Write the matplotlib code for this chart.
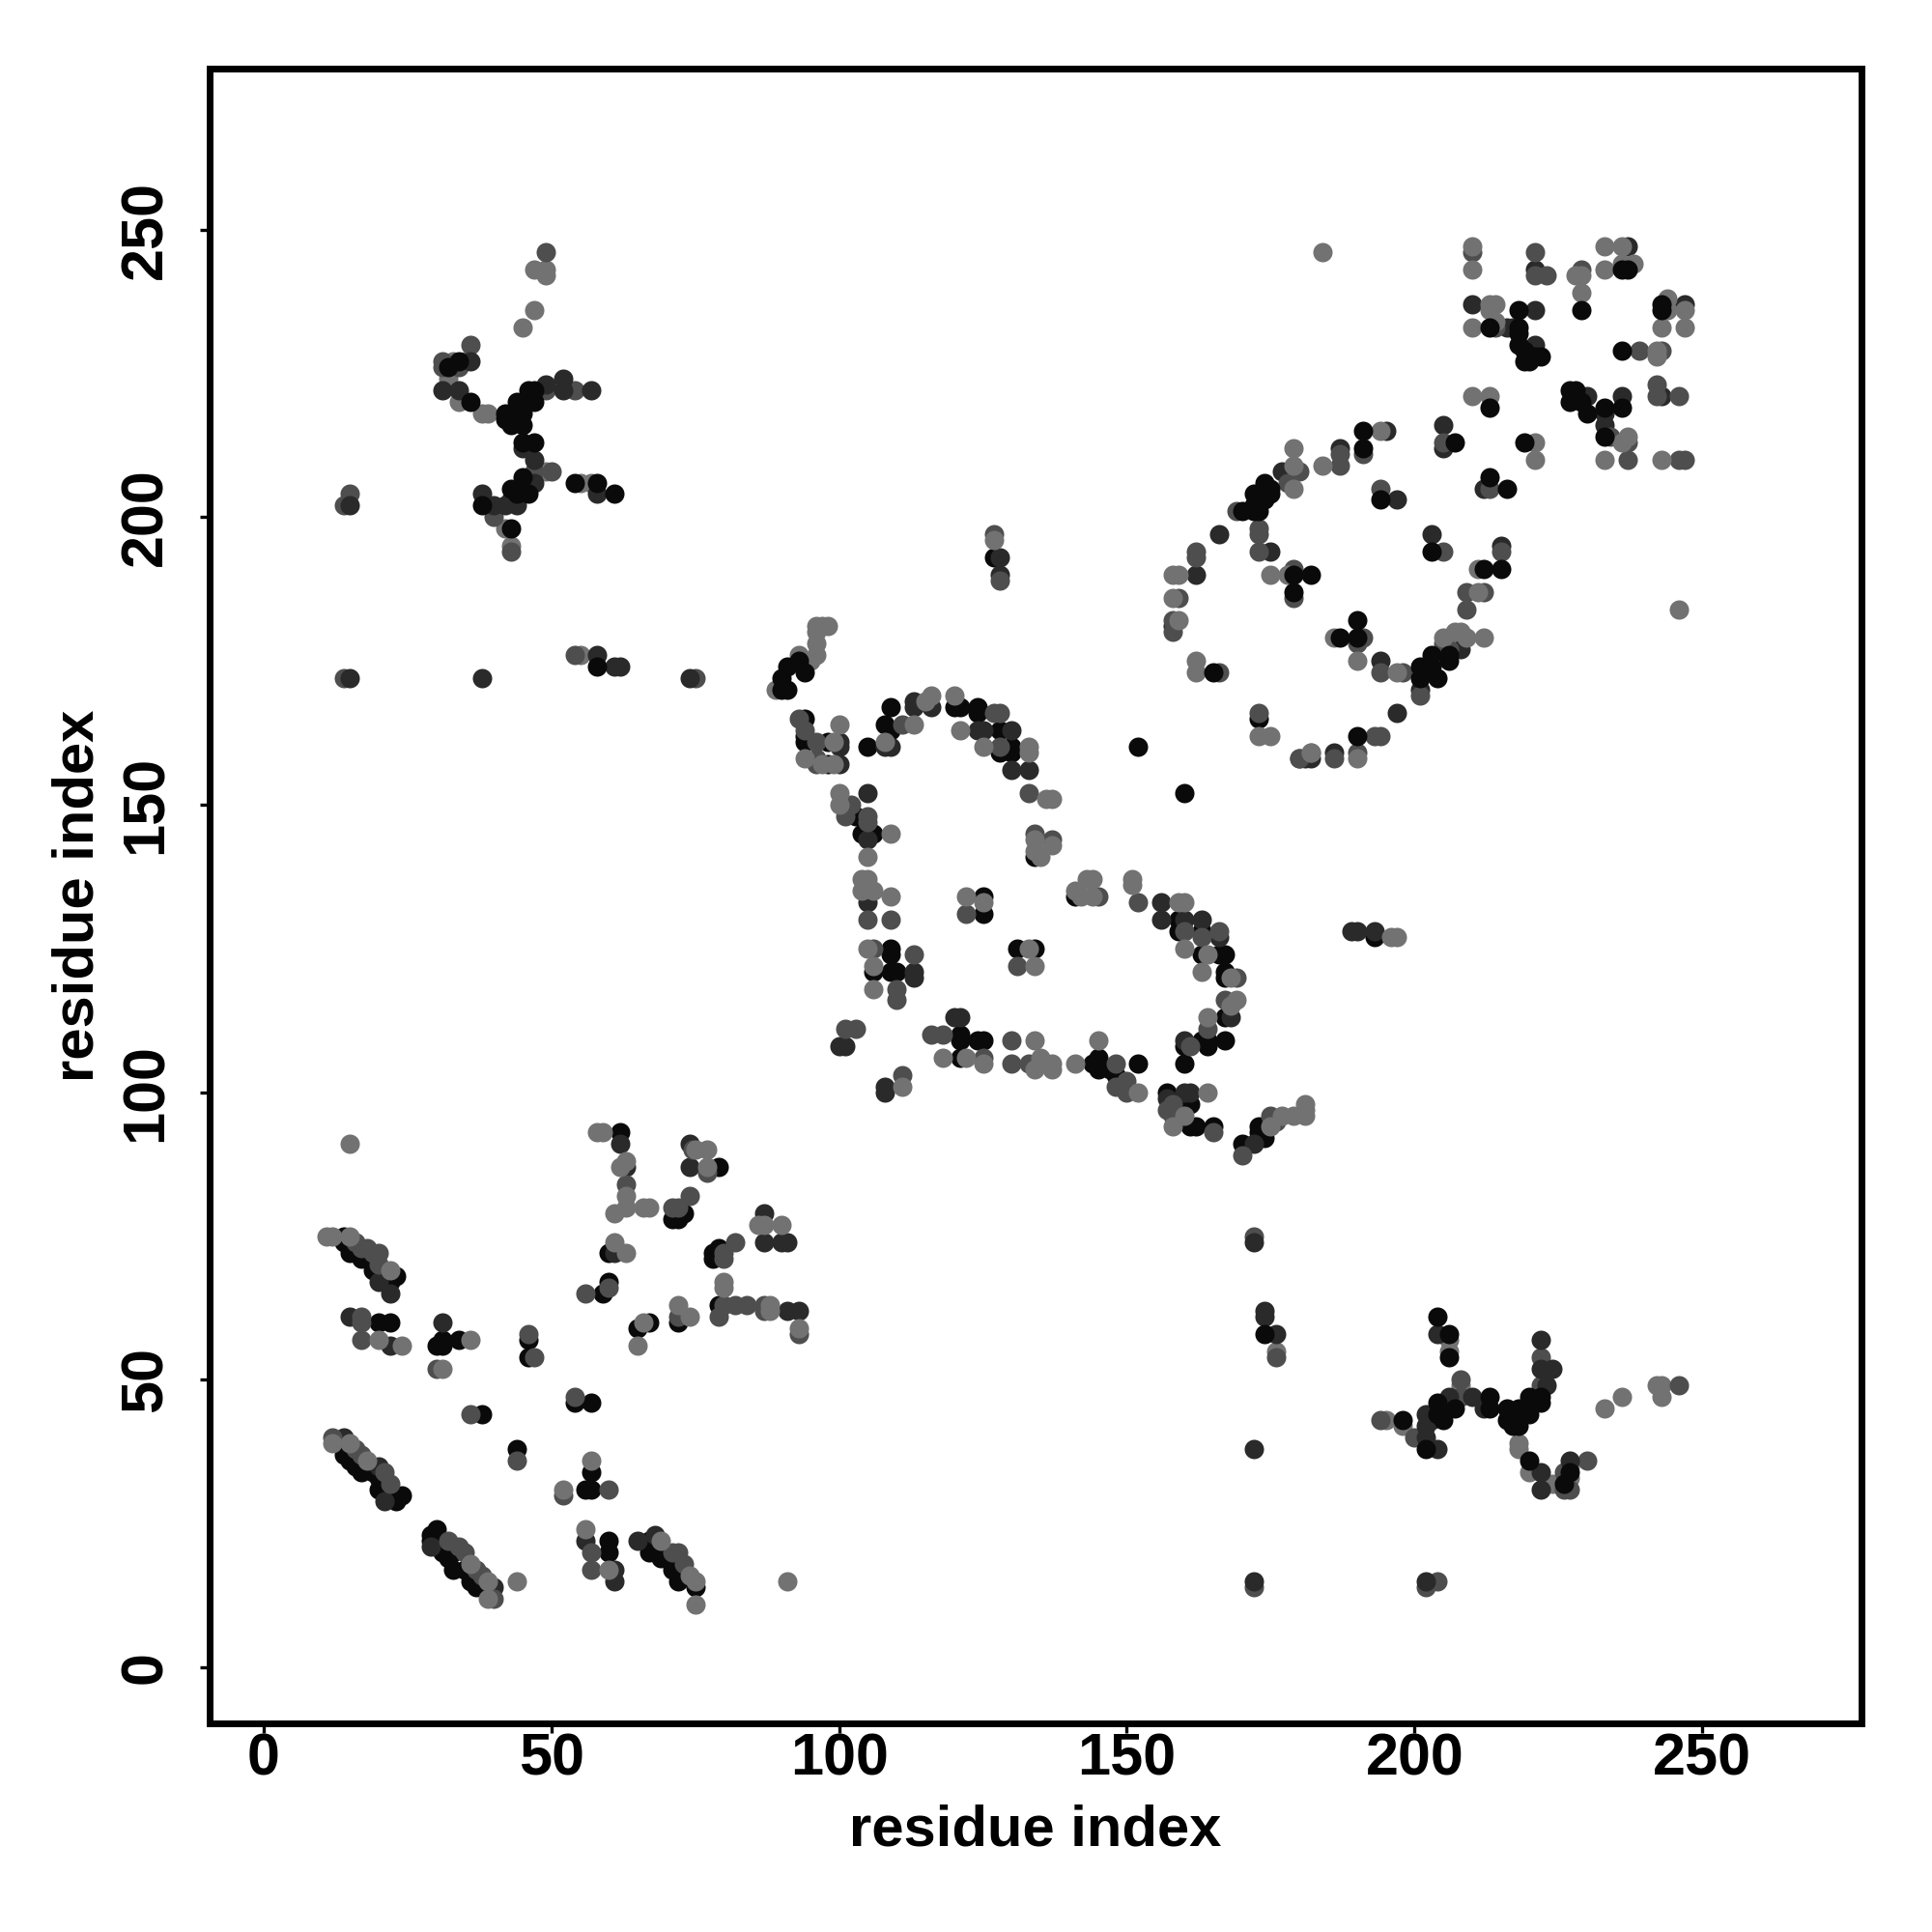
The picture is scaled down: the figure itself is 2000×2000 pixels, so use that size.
import matplotlib
matplotlib.use("Agg")
import matplotlib.pyplot as plt
import numpy as np

plt.rcParams['font.family'] = ['Liberation Sans', 'DejaVu Sans']

# contacts, (residue i, residue j), one list per grey level
black = [(79, 87), (71, 78), (72, 78), (73, 79), (60, 72), (60, 67), (59, 65), (79, 63), (67, 60), (65, 59), (72, 60),
         (14, 75), (14, 74), (15, 72), (17, 71), (19, 69), (21, 69), (23, 68), (22, 67), (21, 68), (20, 60), (22, 60),
         (30, 56), (31, 57), (31, 56), (34, 57), (46, 57), (46, 54), (38, 44), (54, 46), (57, 46), (44, 38),
         (14, 38), (14, 37), (15, 37), (15, 36), (16, 35), (17, 34), (19, 34), (20, 33), (20, 31), (21, 31), (21, 30),
         (23, 29), (24, 30), (23, 30), (30, 24), (29, 23), (29, 22), (30, 23), (31, 20), (33, 20), (33, 17), (36, 16),
         (32, 19), (35, 17), (36, 15), (38, 14), (37, 14), (60, 22), (60, 20), (67, 22), (67, 20), (69, 19), (71, 17),
         (72, 15), (75, 14), (56, 31), (57, 31), (57, 34), (62, 93), (78, 72), (78, 71), (79, 73),
         (94, 165), (94, 162), (94, 161), (98, 161), (98, 157), (109, 167), (108, 164), (109, 163), (105, 160),
         (120, 167), (121, 167), (124, 167), (124, 166), (128, 163), (128, 159), (130, 160), (130, 159),
         (134, 141), (103, 148), (104, 145), (106, 145), (105, 134), (125, 134), (125, 131), (131, 125), (134, 125),
         (141, 134), (159, 130), (159, 128), (163, 128), (163, 124), (166, 124), (167, 124), (167, 121), (167, 120),
         (167, 113), (164, 109), (163, 109), (164, 108), (167, 109), (160, 108), (160, 105), (109, 125), (109, 124),
         (106, 121), (109, 121), (110, 121), (121, 110), (121, 109), (124, 109), (125, 109), (121, 106),
         (145, 106), (144, 105), (145, 104), (147, 104), (148, 103), (152, 105), (157, 100), (161, 98), (161, 94),
         (165, 94), (162, 94), (173, 94), (173, 93), (170, 91), (174, 92), (173, 165), (152, 160), (160, 152),
         (127, 193), (193, 127)]
dark = [(62, 91), (63, 87), (74, 91), (74, 87), (61, 72), (87, 79), (87, 74), (90, 74), (91, 74), (20, 67), (22, 65),
        (15, 61), (22, 56), (31, 60), (14, 40), (20, 35), (21, 29), (29, 21), (40, 14), (56, 22), (61, 17), (61, 15),
        (65, 22), (68, 23), (93, 62), (91, 62),
        (100, 161), (100, 160), (100, 157), (108, 160), (109, 160), (113, 168), (113, 167), (116, 167), (124, 163),
        (125, 163), (130, 163), (130, 156), (133, 156), (105, 152), (105, 144), (105, 133), (156, 133), (156, 130),
        (160, 130), (163, 130), (166, 127), (168, 113), (160, 109), (113, 120), (113, 121), (100, 108), (101, 108),
        (108, 101), (108, 100), (120, 113), (121, 113), (157, 99), (160, 100), (161, 100), (172, 91),
        (180, 158), (182, 158), (181, 158), (186, 159),
        (221, 243), (237, 247), (210, 237), (221, 236), (216, 233), (217, 233), (221, 230), (244, 237), (247, 237),
        (243, 221), (229, 221), (230, 221), (233, 218), (233, 216), (236, 221), (205, 216), (205, 212), (195, 215),
        (187, 212), (177, 208), (166, 197), (175, 194), (162, 190), (158, 181), (197, 203), (212, 205), (203, 197),
        (215, 195), (208, 177), (194, 175), (197, 166), (201, 170), (128, 193), (128, 190), (190, 128), (189, 128),
        (193, 128)]
mid = [(74.6, 90), (63, 84), (71, 80), (72, 80), (74, 82), (82, 74), (80, 72), (80, 71), (60, 66), (56, 65), (80, 63),
       (82, 63), (84, 63), (87, 63), (87, 62), (79, 61), (93, 58), (72, 61), (16, 74), (17, 73), (18, 73), (20, 72),
       (19, 72), (20, 70), (17, 61), (17, 60), (17, 57), (30, 52), (46, 58), (47, 54), (36, 44), (54, 47), (44, 36),
       (52, 30), (60, 31), (12, 40), (16, 38), (17, 37), (21, 34), (22, 32), (32, 22), (34, 21), (35, 20), (37, 17),
       (38, 16), (40, 12), (57, 20), (57, 17), (71, 20), (72, 20), (73, 18), (77, 86),
       (93, 165), (94, 163), (96, 161), (96, 158), (96, 157), (111, 164), (127, 166), (128, 166), (128, 160),
       (133, 152), (134, 145), (137, 144), (101, 150), (102, 150), (101, 148), (105, 148), (105, 147), (105, 130),
       (109, 130), (122, 131), (131, 122), (145, 134), (152, 133), (160, 128), (166, 128), (163, 127), (169, 120),
       (167, 116), (164, 111), (161, 108), (106, 125), (113, 124), (110, 118), (110, 116), (101, 111), (103, 111),
       (111, 103), (116, 110), (118, 110), (125, 106), (130, 109), (130, 105), (133, 105), (148, 105), (150, 102),
       (148, 101), (150, 100), (158, 98), (157, 97), (158, 96), (165, 93), (170, 89), (175, 96), (176, 95),
       (210, 246), (221, 246), (221, 242), (223, 242), (229, 243), (214, 233), (239, 229), (243, 229), (242, 223),
       (242, 221), (246, 221), (234, 214), (237, 213), (237, 210), (246, 210), (247, 210), (205, 213), (191, 211),
       (187, 211), (187, 209), (180, 208), (178, 206), (169, 201), (173, 198), (173, 197), (173, 194), (162, 194),
       (162, 193), (159, 186), (158, 182), (158, 180), (166, 173), (179, 191), (179, 186), (194, 205), (213, 205),
       (205, 194), (215, 194), (209, 187), (212, 187), (209, 184), (206, 177), (205, 178), (191, 179), (190, 178),
       (194, 173), (198, 173), (193, 162), (194, 162), (180, 158), (186, 158), (190, 159), (201, 169), (173, 166),
       (127, 197), (128, 189)]
light = [(15, 91), (58, 93), (59, 93), (62, 87), (63, 88), (63, 82), (63, 80), (61, 79), (66, 80), (67, 80), (75, 90),
         (77, 90), (77, 87), (86, 77), (87, 77), (90, 77), (61, 74), (63, 72), (80, 67), (80, 66), (88, 63), (88, 62),
         (93, 59), (66, 60), (65, 56), (72, 63), (74, 61), (11, 75), (12, 75), (15, 75), (22, 69), (20, 57), (24, 56),
         (36, 57), (31, 52), (52, 31), (57, 36), (12, 39), (15, 39), (18, 36), (36, 18), (39, 15), (39, 12), (44, 15),
         (91, 15), (56, 24), (60, 17), (69, 22), (74, 16), (75, 15), (75, 11),
         (100, 164), (99, 161), (94, 158), (97, 157), (99, 157), (113, 164), (108, 161), (115, 168), (116, 169),
         (120, 169), (121, 163), (125, 160), (133, 160), (133, 159), (136, 151), (137, 151), (134, 144), (137, 143),
         (135, 141), (134, 142), (100, 152), (100, 150), (109, 145), (105, 141), (104, 137), (105, 137), (104, 135),
         (106, 135), (109, 134), (122, 134), (125, 133), (133, 125), (134, 122), (141, 135), (143, 137), (144, 137),
         (142, 134), (144, 134), (151, 137), (151, 136), (159, 133), (160, 133), (160, 125), (164, 124), (163, 121),
         (168, 120), (169, 116), (168, 115), (164, 113), (105, 125), (106, 122), (106, 118), (111, 101), (118, 106),
         (122, 106), (125, 105), (134, 109), (135, 106), (135, 105), (134, 104), (137, 105), (137, 104), (141, 105),
         (145, 109), (152, 100), (164, 100), (160, 96), (158, 94), (175, 94), (177, 96), (179, 96), (181, 97), (181, 96),
         (181, 98), (173, 162), (175, 162), (182, 159),
         (184, 246), (210, 247), (210, 243), (228, 242), (229, 242), (229, 239), (233, 247), (236, 247), (233, 243),
         (236, 244), (238, 244), (213, 237), (214, 237), (213, 236), (210, 233), (214, 234), (242, 228), (242, 229),
         (244, 238), (244, 236), (247, 236), (243, 233), (247, 233), (210, 221), (213, 221), (237, 214), (236, 213),
         (233, 210), (243, 210), (221, 213), (221, 210), (194, 215), (184, 209), (179, 212), (179, 209), (179, 205),
         (158, 190), (159, 190), (158, 186), (159, 182), (162, 175), (162, 173), (175, 190), (178, 190), (211, 191),
         (211, 187), (246, 184), (212, 179), (209, 179), (208, 180), (207, 180), (205, 179), (186, 179), (190, 175),
         (197, 173), (190, 158), (182, 159), (127, 196), (196, 127), (197, 127), (96, 178), (96, 180), (96, 181),
         (97, 181), (98, 181), (93, 176), (96, 176), (95, 175), (89, 170)]
# black points that sit on top in the densest clumps
black_top = [(90, 170), (91, 170), (90, 172), (91, 174), (94, 173), (93, 175),
             (213, 233), (218, 236), (218, 233), (218, 232), (218, 230), (219, 229), (222, 228), (219, 227), (220, 227),
             (221, 228), (207, 213), (191, 215), (191, 212), (174, 206), (175, 205), (173, 204), (175, 204), (172, 204),
             (172, 202), (174, 203), (172, 201), (173, 201), (170, 201), (179, 190), (182, 190), (179, 187),
             (194, 203), (213, 207), (216, 205), (203, 194), (215, 191), (212, 191), (213, 219),
             (227, 222), (227, 220), (228, 222), (229, 220), (230, 218), (233, 219), (236, 219), (233, 214), (219, 213),
             (236, 229), (243, 237), (243, 236), (206, 176), (206, 175), (203, 176), (203, 174), (204, 172), (201, 174),
             (201, 172), (190, 182), (190, 179), (187, 179), (190, 162), (165, 173), (236, 243), (237, 243), (229, 236)]

# far corners, also drawn mirrored across the diagonal
corner_black = [(34, 227), (32, 226), (36, 220), (42, 218), (42, 217), (43, 216), (44, 220), (45, 218), (45, 216),
                (45, 213), (47, 213), (46, 222), (47, 222), (47, 220), (46, 221), (45, 207), (43, 205), (46, 204),
                (44, 204), (38, 202), (43, 198), (54, 206), (58, 206), (61, 204), (58, 174)]
corner_dark = [(36, 227), (31, 222), (34, 222), (45, 212), (49, 223), (52, 224), (52, 222), (57, 222), (47, 210),
               (47, 206), (45, 205), (43, 203), (42, 202), (44, 202), (38, 204), (40, 202), (58, 204), (15, 202),
               (15, 172), (38, 172), (58, 176), (61, 174), (62, 174), (74, 172)]
corner_mid = [(49, 246), (36, 230), (31, 227), (31, 226), (34, 226), (54, 222), (49, 222), (50, 208), (47, 208),
              (40, 200), (43, 194), (15, 204), (14, 202), (14, 172), (54, 176), (75, 172)]
corner_light = [(47, 243), (49, 243), (49, 242), (47, 236), (45, 233), (35, 227), (33, 227), (32, 224), (34, 220),
                (38, 218), (39, 218), (49, 208), (42, 198), (43, 195), (55, 206), (57, 206), (55, 176)]

ticks = [0, 50, 100, 150, 200, 250]

GREY = {'black': '#0a0a0a', 'dark': '#2a2a2a', 'mid': '#4e4e4e', 'light': '#727272'}


def draw(ax, pts, colour, mirror=False):
    pts = np.array(pts)
    ax.scatter(pts[:, 0], pts[:, 1], s=52, c=colour, linewidths=0)
    if mirror:
        ax.scatter(pts[:, 1], pts[:, 0], s=52, c=colour, linewidths=0)


fig = plt.figure(figsize=(10, 10), dpi=200)
ax = fig.add_axes([0.1083, 0.108, 0.855, 0.8563])

draw(ax, black, GREY['black'])
draw(ax, dark, GREY['dark'])
draw(ax, mid, GREY['mid'])
draw(ax, light, GREY['light'])
draw(ax, black_top, GREY['black'])
draw(ax, corner_light, GREY['light'], mirror=True)
draw(ax, corner_mid, GREY['mid'], mirror=True)
draw(ax, corner_dark, GREY['dark'], mirror=True)
draw(ax, corner_black, GREY['black'], mirror=True)

ax.set_xlim(-9.45, 277.6)
ax.set_ylim(-9.7, 277.9)
ax.set_xticks(ticks)
ax.set_yticks(ticks)
ax.tick_params(length=3.6, width=1.2, labelsize=22)
ax.tick_params(axis='x', pad=-0.2)
ax.tick_params(axis='y', pad=9.4)
for lab in ax.get_xticklabels() + ax.get_yticklabels():
    lab.set_fontweight('bold')
plt.setp(ax.get_yticklabels(), rotation=90, va='center')
ax.set_xlabel('residue index', fontsize=21.5, fontweight='bold', labelpad=6.2)
ax.set_ylabel('residue index', fontsize=21.5, fontweight='bold', labelpad=5.4)
for s in ax.spines.values():
    s.set_linewidth(2.5)

fig.savefig('out.png', dpi=200)
